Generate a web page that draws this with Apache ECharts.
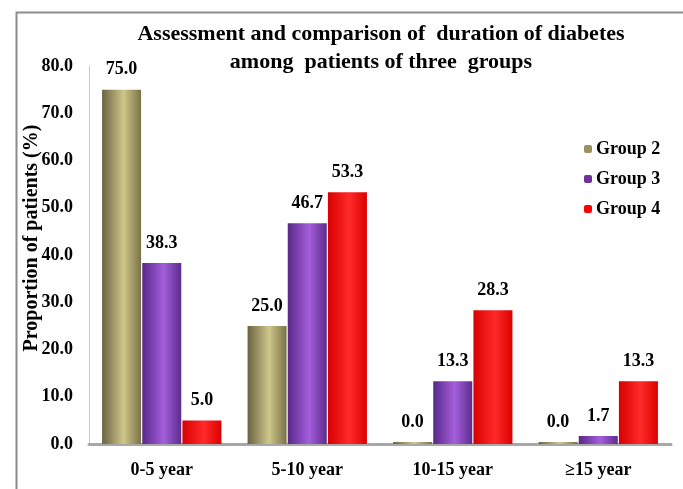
<!DOCTYPE html>
<html>
<head>
<meta charset="utf-8">
<script src="https://cdn.jsdelivr.net/npm/echarts@6/dist/echarts.min.js"></script>
<style>html,body{margin:0;padding:0;background:#fff;}#c{width:683px;height:489px;}</style>
</head>
<body>
<div id="c"></div>
<script>
var categories = ['0-5 year', '5-10 year', '10-15 year', '\u226515 year'];
var group2 = [75.0, 25.0, 0.0, 0.0];
var group3 = [38.3, 46.7, 13.3, 1.7];
var group4 = [5.0, 53.3, 28.3, 13.3];
var seriesNames = ['Group 2', 'Group 3', 'Group 4'];
var yTicks = [0, 10, 20, 30, 40, 50, 60, 70, 80];

var FONT = '"Liberation Serif", "Times New Roman", serif';
function grad(edge, light, edge2) {
  return new echarts.graphic.LinearGradient(0, 0, 1, 0, [
    {offset: 0, color: edge},
    {offset: 0.55, color: light},
    {offset: 1, color: edge2}
  ]);
}
var fills = [
  grad('#6a6340', '#cfc68a', '#7a7248'),
  grad('#582888', '#a45edc', '#5c2c8c'),
  grad('#d80000', '#ff2a2a', '#dc0000')
];
var legendColors = ['#9a9060', '#7030a0', '#ff0000'];
var dataSets = [group2, group3, group4];

var chart = echarts.init(document.getElementById('c'), null, {renderer: 'canvas'});
var series = dataSets.map(function (d, i) {
  return {
    name: seriesNames[i],
    type: 'bar',
    data: d,
    barWidth: 39,
    barGap: '3%',
    barMinHeight: 2,
    itemStyle: {color: fills[i]},
    label: {
      show: true, position: 'top', distance: 11,
      formatter: function (p) { return p.value.toFixed(1); },
      fontFamily: FONT, fontWeight: 'bold', fontSize: 18, color: '#000'
    }
  };
});

chart.setOption({
  animation: false,
  backgroundColor: '#fff',
  graphic: [{
    type: 'rect', left: 14, top: 10,
    shape: {width: 700, height: 500},
    style: {fill: 'none', stroke: '#8c8c8c', lineWidth: 2},
    z: -1
  }],
  title: {
    text: 'Assessment and comparison of  duration of diabetes\namong  patients of three  groups',
    left: 376, textAlign: 'center', top: 15,
    textStyle: {fontFamily: FONT, fontWeight: 'bold', fontSize: 22, lineHeight: 28, color: '#000'}
  },
  legend: {
    orient: 'vertical', left: 584, top: 140, padding: 0,
    itemWidth: 8, itemHeight: 8, itemGap: 12,
    data: seriesNames.map(function (n, i) {
      return {name: n, itemStyle: {color: legendColors[i]}};
    }),
    textStyle: {fontFamily: FONT, fontWeight: 'bold', fontSize: 18, lineHeight: 18, color: '#000', padding: [0, 0, 0, -1]}
  },
  grid: {left: 89, right: 12, top: 66, bottom: 45, containLabel: false, outerBoundsMode: 'none'},
  xAxis: {
    type: 'category', data: categories,
    axisLine: {lineStyle: {color: '#a8a8a8', width: 3}},
    axisTick: {show: false},
    axisLabel: {fontFamily: FONT, fontWeight: 'bold', fontSize: 18, color: '#000', margin: 17}
  },
  yAxis: {
    type: 'value', min: 0, max: 80, interval: 10,
    name: 'Proportion of patients (%)',
    nameLocation: 'middle', nameGap: 47, nameRotate: 90, nameMoveOverlap: false,
    nameTextStyle: {fontFamily: FONT, fontWeight: 'bold', fontSize: 20, lineHeight: 20, color: '#000', padding: [0, 0, 0, 34]},
    axisLine: {show: true, lineStyle: {color: '#c8c8c8', width: 1}},
    axisTick: {show: false},
    splitLine: {show: false},
    axisLabel: {
      fontFamily: FONT, fontWeight: 'bold', fontSize: 18, color: '#000', margin: 16,
      formatter: function (v) { return yTicks.indexOf(v) >= 0 ? v.toFixed(1) : ''; }
    }
  },
  series: series
});
</script>
</body>
</html>
